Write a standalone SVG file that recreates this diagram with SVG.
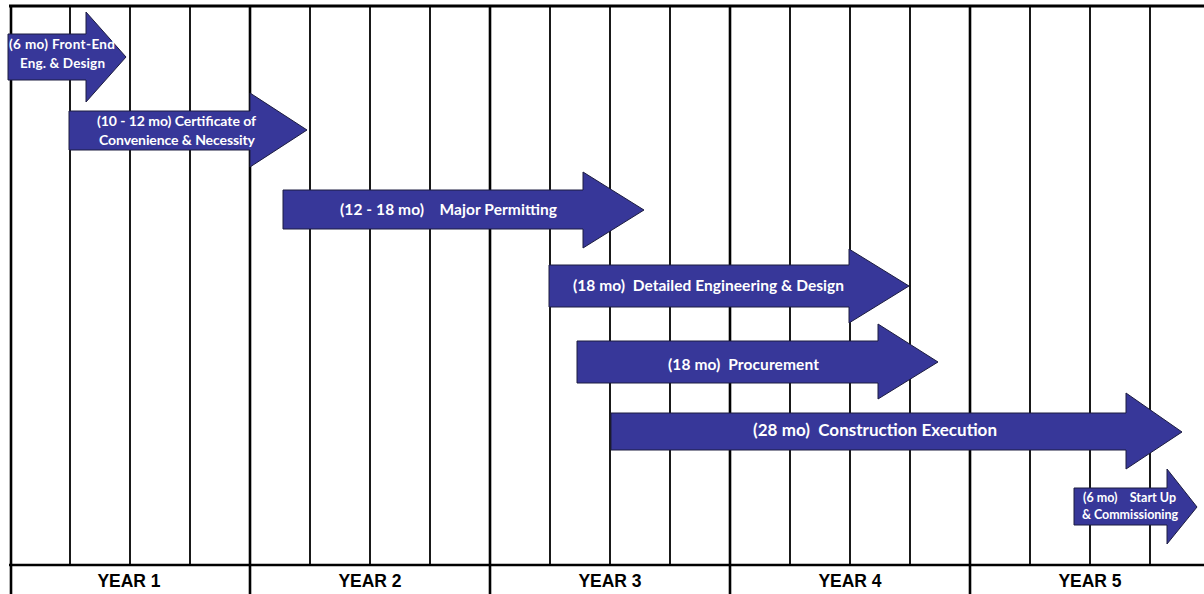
<svg xmlns="http://www.w3.org/2000/svg" width="1204" height="594" viewBox="0 0 1204 594">
<style>
.g{stroke:#000;stroke-width:1.8;fill:none}
.gy{stroke:#000;stroke-width:2.6;fill:none}
.ar{fill:#373799;stroke:#1c1c40;stroke-width:1}
.t{font-family:Lato,"Liberation Sans",sans-serif;font-weight:bold;fill:#fff;text-anchor:middle;white-space:pre}
.y{font-family:"Liberation Sans",Arial,sans-serif;font-weight:bold;font-size:17.5px;fill:#000;text-anchor:middle}
</style>
<rect x="0" y="0" width="1204" height="594" fill="#fff"/>
<g id="grid">
<line class="gy" x1="11" y1="5" x2="11" y2="594"/>
<line class="g" x1="70" y1="6" x2="70" y2="565"/>
<line class="g" x1="130" y1="6" x2="130" y2="565"/>
<line class="g" x1="190" y1="6" x2="190" y2="565"/>
<line class="gy" x1="250" y1="6" x2="250" y2="594"/>
<line class="g" x1="310" y1="6" x2="310" y2="565"/>
<line class="g" x1="370" y1="6" x2="370" y2="565"/>
<line class="g" x1="430" y1="6" x2="430" y2="565"/>
<line class="gy" x1="490" y1="6" x2="490" y2="594"/>
<line class="g" x1="550" y1="6" x2="550" y2="565"/>
<line class="g" x1="610" y1="6" x2="610" y2="565"/>
<line class="g" x1="670" y1="6" x2="670" y2="565"/>
<line class="gy" x1="730" y1="6" x2="730" y2="594"/>
<line class="g" x1="790" y1="6" x2="790" y2="565"/>
<line class="g" x1="850" y1="6" x2="850" y2="565"/>
<line class="g" x1="910" y1="6" x2="910" y2="565"/>
<line class="gy" x1="970" y1="6" x2="970" y2="594"/>
<line class="g" x1="1030" y1="6" x2="1030" y2="565"/>
<line class="g" x1="1090" y1="6" x2="1090" y2="565"/>
<line class="g" x1="1150" y1="6" x2="1150" y2="565"/>
<line x1="9" y1="6" x2="1204" y2="6" stroke="#000" stroke-width="3"/>
<line x1="9" y1="565" x2="1204" y2="565" stroke="#000" stroke-width="2.6"/>
</g>
<g id="years">
<text class="y" x="129" y="587">YEAR 1</text>
<text class="y" x="370" y="587">YEAR 2</text>
<text class="y" x="610" y="587">YEAR 3</text>
<text class="y" x="850" y="587">YEAR 4</text>
<text class="y" x="1090" y="587">YEAR 5</text>
</g>
<g id="front-end">
<polygon class="ar" points="8,34 86,34 86,12 126,57 86,102 86,80 8,80"/>
<text class="t" font-size="13.5" x="62" y="49" textLength="106">(6 mo) Front-End</text>
<text class="t" font-size="13.5" x="62.5" y="68" textLength="85">Eng. &amp; Design</text>
</g>
<g id="certificate">
<polygon class="ar" points="69,111 250,111 250,93 307,130 250,167 250,150 69,150"/>
<text class="t" font-size="14" x="176.5" y="126" textLength="159">(10 - 12 mo) Certificate of</text>
<text class="t" font-size="14" x="177" y="145" textLength="156">Convenience &amp; Necessity</text>
</g>
<g id="permitting">
<polygon class="ar" points="283,190 583,190 583,172 644,210 583,248 583,229 283,229"/>
<text class="t" font-size="15.5" x="448.5" y="215" textLength="217">(12 - 18 mo)    Major Permitting</text>
</g>
<g id="detailed">
<polygon class="ar" points="549,265 849,265 849,249 909,286 849,323 849,307 549,307"/>
<text class="t" font-size="15.5" x="708.5" y="291" textLength="271">(18 mo)  Detailed Engineering &amp; Design</text>
</g>
<g id="procurement">
<polygon class="ar" points="577,341 878,341 878,324 938,362 878,399 878,383 577,383"/>
<text class="t" font-size="15.5" x="743.5" y="370" textLength="151">(18 mo)  Procurement</text>
</g>
<g id="construction">
<polygon class="ar" points="611,413 1126,413 1126,393 1182,432 1126,469 1126,450 611,450"/>
<text class="t" font-size="17" x="875" y="436" textLength="244">(28 mo)  Construction Execution</text>
</g>
<g id="startup">
<polygon class="ar" points="1074,488 1167,488 1167,469 1197,507 1167,544 1167,525 1074,525"/>
<text class="t" font-size="12.5" x="1129.5" y="502" textLength="93">(6 mo)    Start Up</text>
<text class="t" font-size="12.5" x="1130" y="519" textLength="96">&amp; Commissioning</text>
</g>
</svg>
